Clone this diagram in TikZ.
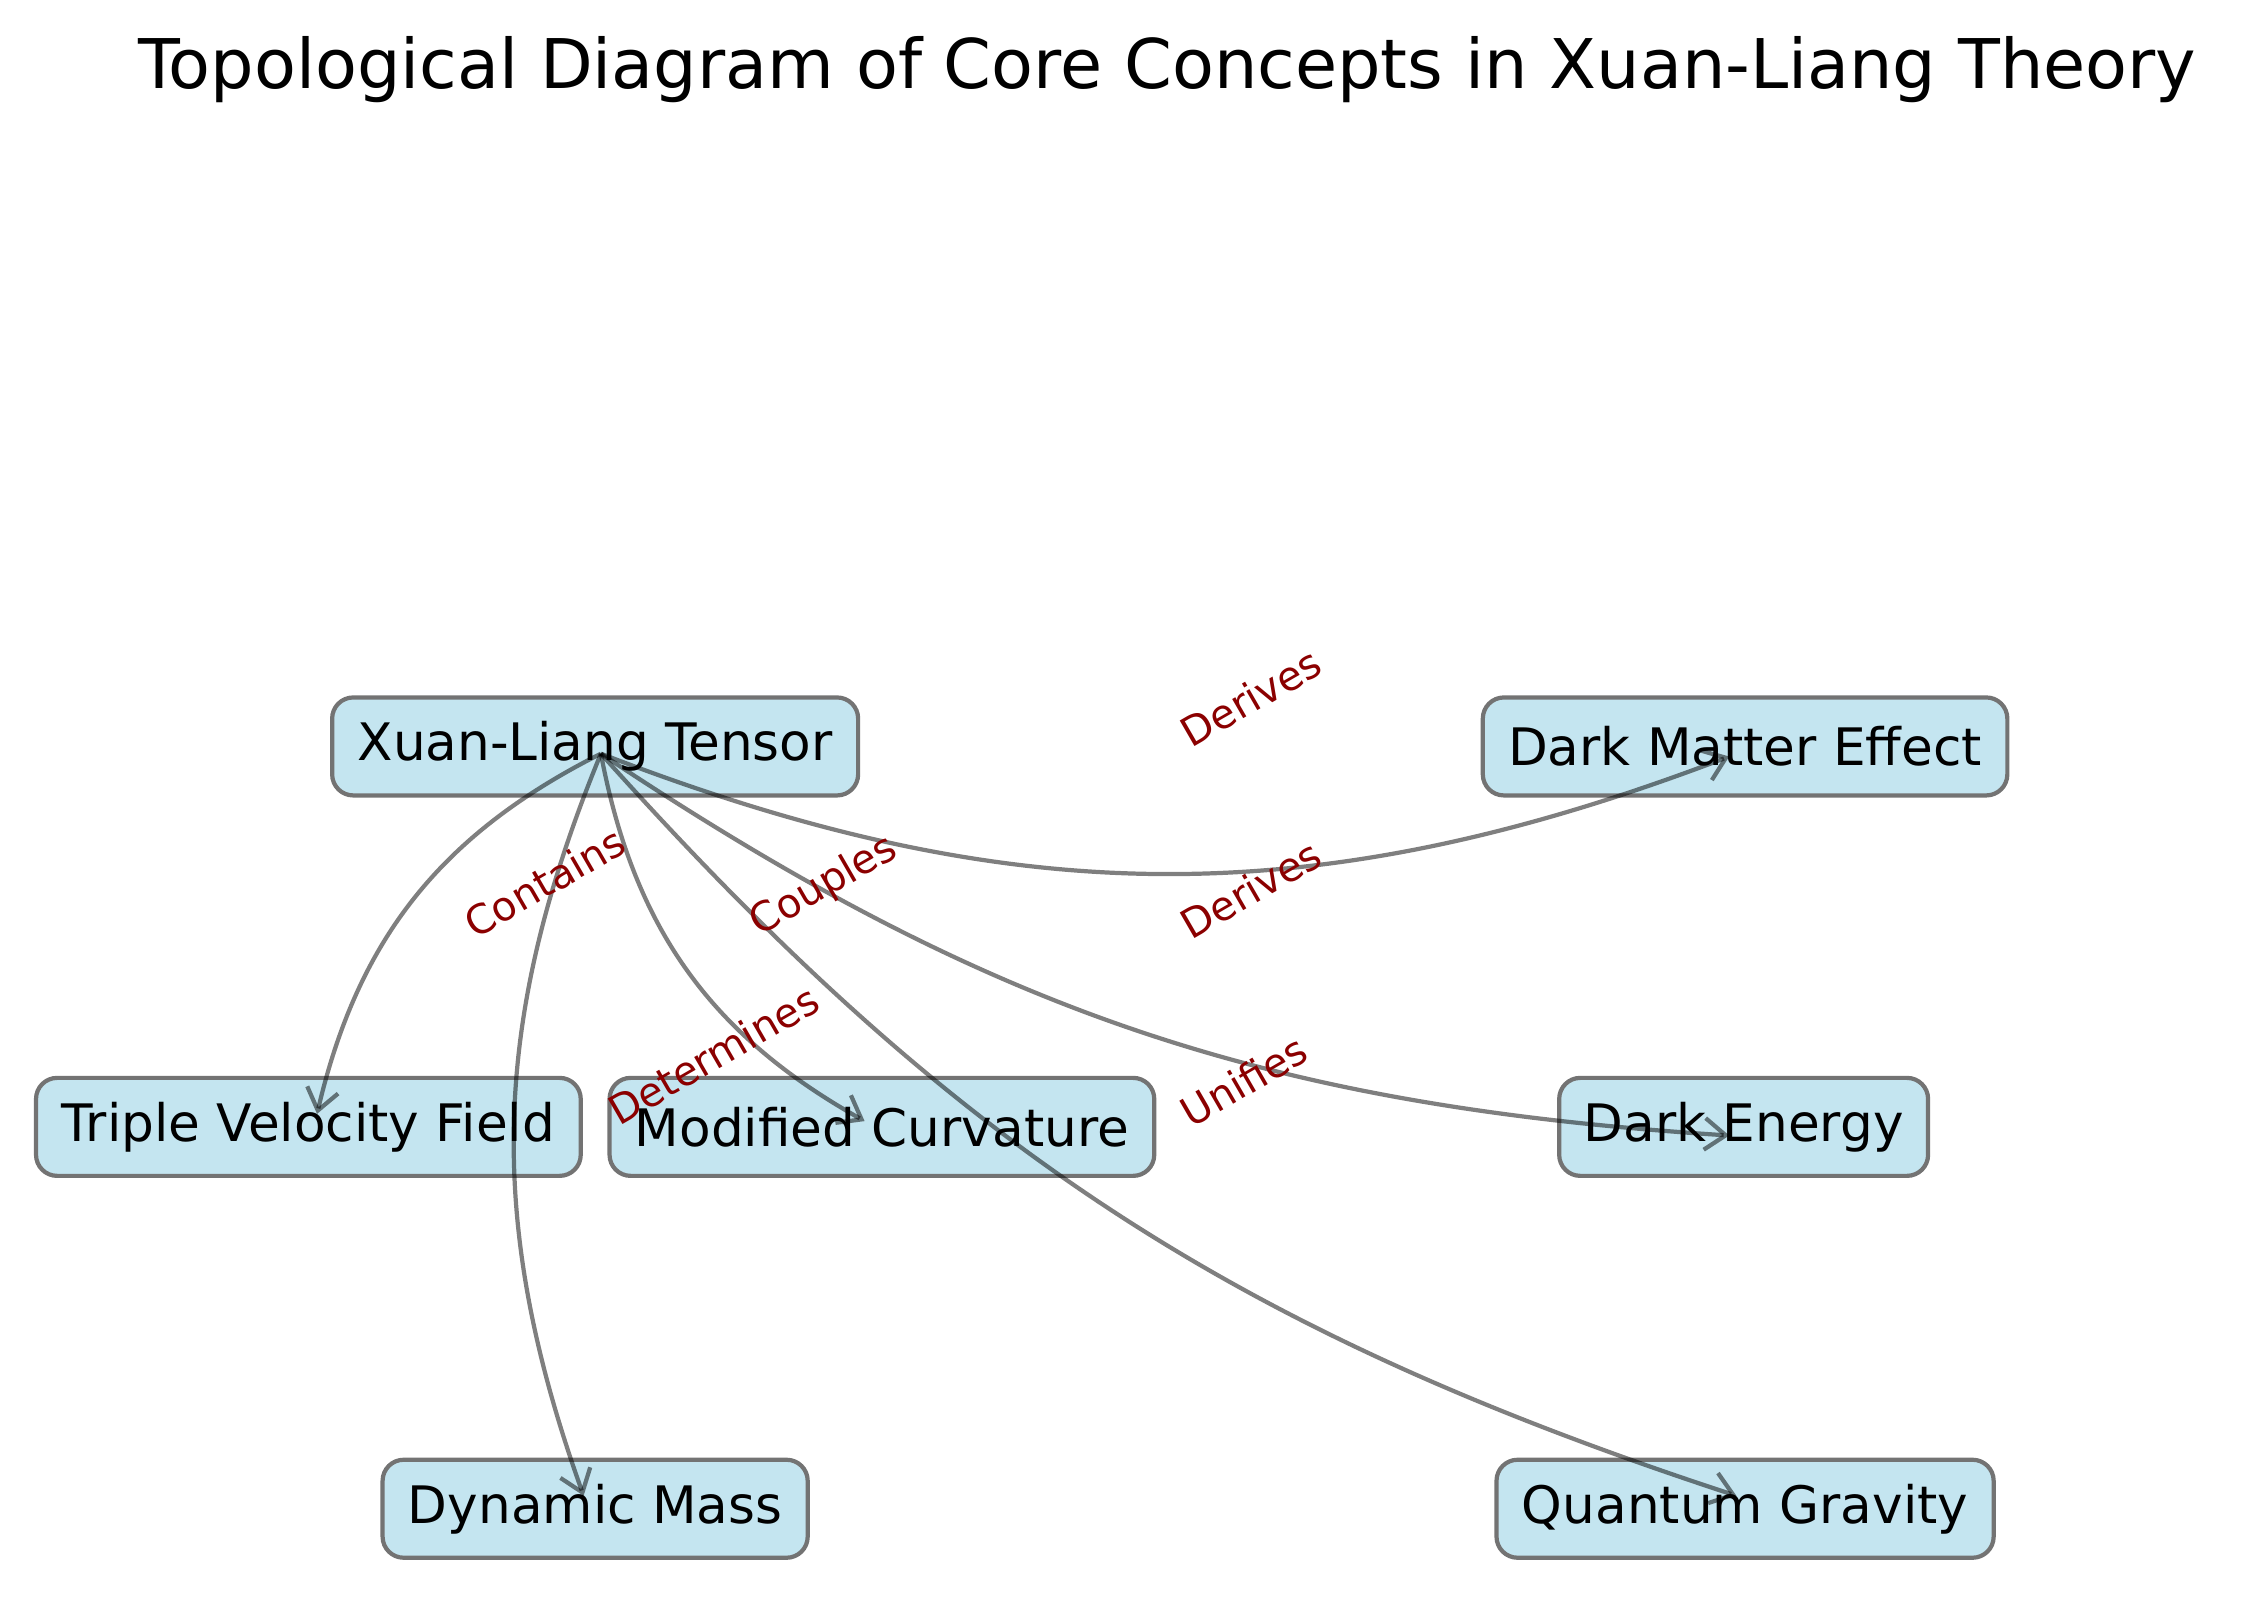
\documentclass[tikz,border=0pt]{standalone}
\usepackage{fontspec}
\setmainfont{DejaVu Sans}
\usetikzlibrary{arrows.meta}
\definecolor{nfill}{RGB}{196,229,240}
\definecolor{lab}{RGB}{139,0,0}
\begin{document}
\begin{tikzpicture}[x=0.1441mm,y=-0.1441mm,
  box/.style={draw=gray!90!black,line width=1.2pt,fill=nfill,rounded corners=6pt,minimum height=68*0.1441mm,inner sep=0pt,font=\fontsize{14.7}{16}\selectfont},
  edge/.style={draw=black,opacity=0.5,line width=1.2pt,-{Straight Barb[length=6pt,width=9pt]}},
  lbl/.style={text=lab,font=\fontsize{11.5}{13}\selectfont,rotate=30}]
\useasboundingbox (0,0) rectangle (1560,1117);
\node[font=\fontsize{19.5}{22}\selectfont] (title) at (810,48) {Topological Diagram of Core Concepts in Xuan-Liang Theory};
\node[box,minimum width=365*0.1441mm] (xl) at (413,518) {Xuan-Liang Tensor};
\node[box,minimum width=364*0.1441mm] (dm) at (1211,518) {Dark Matter Effect};
\node[box,minimum width=378*0.1441mm] (tv) at (214,782) {Triple Velocity Field};
\node[box,minimum width=378*0.1441mm] (mc) at (612,782) {Modified Curvature};
\node[box,minimum width=256*0.1441mm] (de) at (1210,782) {Dark Energy};
\node[box,minimum width=295*0.1441mm] (dy) at (413,1047) {Dynamic Mass};
\node[box,minimum width=345*0.1441mm] (qg) at (1211,1047) {Quantum Gravity};
\coordinate (s) at (417,523);
\coordinate (edm) at (1200,525);
\coordinate (etv) at (220,773);
\coordinate (edy) at (405,1038);
\coordinate (emc) at (600,778);
\coordinate (ede) at (1200,788);
\coordinate (eqg) at (1205,1038);
\draw[edge] (s) to[bend right=21] (edm);
\draw[edge] (s) to[bend right=25] (etv);
\draw[edge] (s) to[bend right=21] (edy);
\draw[edge] (s) to[bend right=25] (emc);
\draw[edge] (s) to[bend right=15] (ede);
\draw[edge] (s) to[bend right=15] (eqg);
\node[lbl] (l1) at (868,484) {Derives};
\node[lbl] (l2) at (868,617) {Derives};
\node[lbl] (l3) at (378,612) {Contains};
\node[lbl] (l4) at (572,615) {Couples};
\node[lbl] (l5) at (495,732) {Determines};
\node[lbl] (l6) at (863,750) {Unifies};
\end{tikzpicture}
\end{document}
